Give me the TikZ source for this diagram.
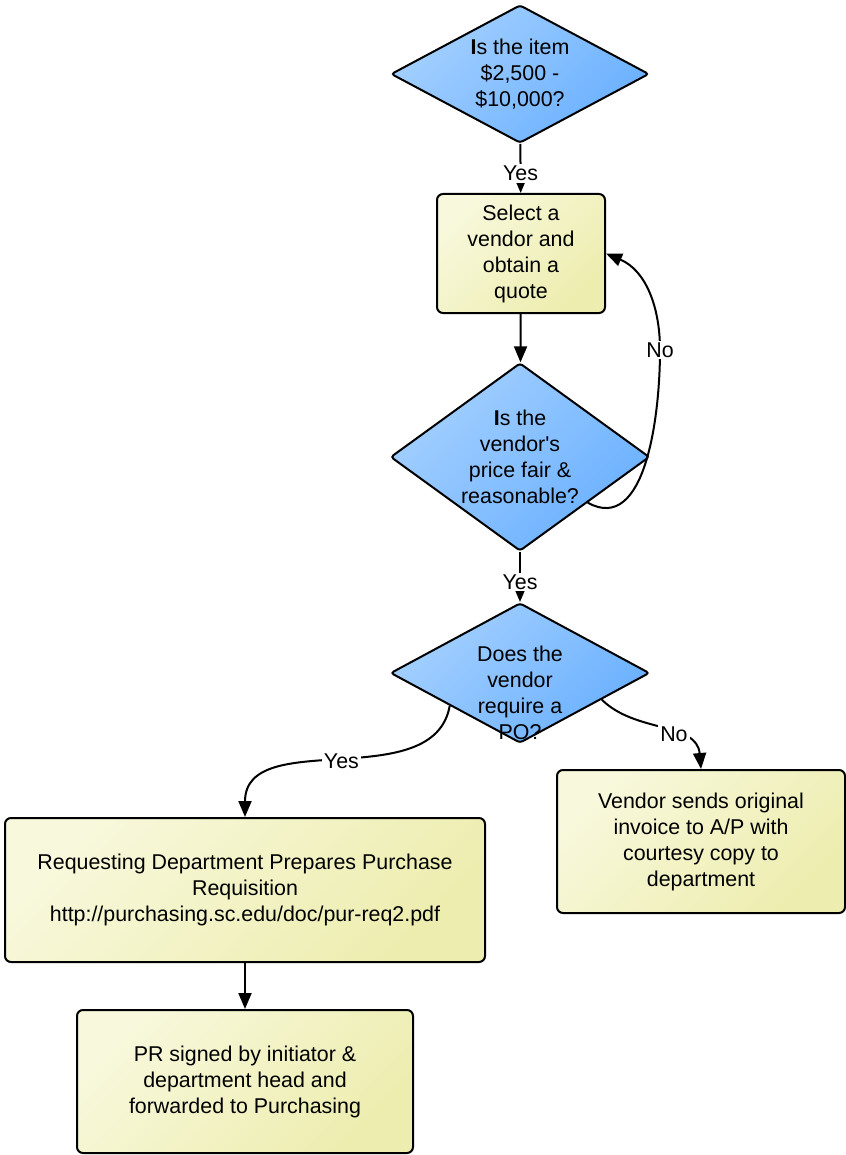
\documentclass[tikz,border=0pt]{standalone}
\usepackage{fontspec}
\setmainfont{Liberation Sans}
\usetikzlibrary{shapes.geometric,arrows.meta}
\definecolor{bluetop}{HTML}{A4D0FF}
\definecolor{bluebot}{HTML}{6AB0FF}
\definecolor{yeltop}{HTML}{F8F8DC}
\definecolor{yelbot}{HTML}{EDEDAF}

\begin{document}
\begin{tikzpicture}[x=0.5pt, y=0.5pt, line width=1pt,
        every node/.style={font=\fontsize{10.7}{13}\selectfont, align=center},
        decision/.style={diamond, draw, rounded corners=1.5pt, inner sep=0pt,
            top color=bluetop, bottom color=bluebot, shading angle=45},
        process/.style={rectangle, draw, rounded corners=3pt,
            top color=yeltop, bottom color=yelbot, shading angle=45},
        lbl/.style={fill=white, inner sep=1pt},
        arr/.style={-{Triangle[length=8pt,width=6.5pt]}}]
            \useasboundingbox (0,0) rectangle (845,-1155);
            % questions and steps
            \node[decision, aspect=1.87, minimum width=129pt, minimum height=69pt] (item) at (520,-74) {\textbf{I}s the item\\\$2,500 -\\\$10,000?};
            \node[process, minimum width=84pt, minimum height=59.5pt] (quote) at (521,-253.5) {Select a\\vendor and\\obtain a\\quote};
            \node[decision, aspect=1.38, minimum width=129.5pt, minimum height=94pt] (fair) at (520,-457) {\textbf{I}s the\\vendor\textquotesingle s\\price fair \&\\reasonable?};
            \node[decision, aspect=1.85, minimum width=129.5pt, minimum height=70pt] (needpo) at (520,-673) {};
            \node (needpotext) at (520,-693) {Does the\\vendor\\require a\\PO?};
            \node[process, minimum width=240pt, minimum height=72pt] (prepare) at (245,-890) {Requesting Department Prepares Purchase\\Requisition\\http://purchasing.sc.edu/doc/pur-req2.pdf};
            \node[process, minimum width=144pt, minimum height=71.5pt] (invoice) at (701,-841.5) {Vendor sends original\\invoice to A/P with\\courtesy copy to\\department};
            \node[process, minimum width=168pt, minimum height=71.5pt] (signed) at (245,-1081.5) {PR signed by initiator \&\\department head and\\forwarded to Purchasing};
            % connectors
            \draw[arr] (item) -- node[lbl, pos=0.6] {Yes} (quote);
            \draw[arr] (quote) -- (fair);
            \draw[arr] (fair) -- node[lbl, pos=0.6] {Yes} (needpo);
            \coordinate (noturn) at (660,-350);
            \draw[arr] (fair.-34) to[out=-29, in=-90] (noturn) node[lbl] {No} to[out=90, in=-23] (quote.east);
            \draw[arr] (needpo.-155) to[out=-100, in=90] node[lbl] {Yes} (prepare.north);
            \draw[arr] (needpo.-18) to[out=-45, in=95] node[lbl, pos=0.6] {No} (invoice.north);
            \draw[arr] (prepare) -- (signed);
        \end{tikzpicture}
\end{document}
